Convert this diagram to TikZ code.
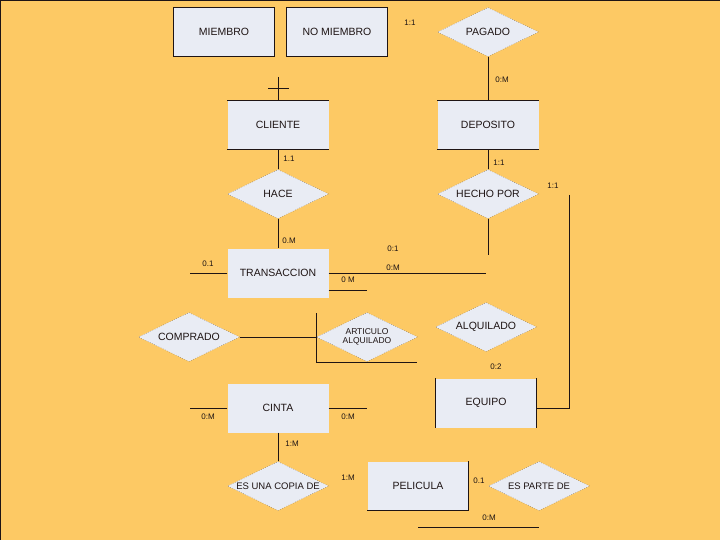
\documentclass[tikz,border=0pt]{standalone}
\usepackage{fontspec}
\setmainfont{Liberation Sans}
\usepackage{xcolor}
\usetikzlibrary{calc,positioning,shapes.geometric}
\definecolor{fondo}{HTML}{FDC964}
\definecolor{relleno}{HTML}{E9ECF4}
\definecolor{tinta}{HTML}{1E1414}
\tikzset{box/.style={fill=relleno,minimum width=101pt,minimum height=49pt,inner sep=0pt,
    font=\fontsize{10.5}{12}\selectfont,text=tinta},
  framed/.style={box,draw=tinta,line width=0.9pt},
  rel/.style={diamond,draw=tinta!80,dotted,fill=relleno,aspect=2.06,minimum width=101pt,
    minimum height=49pt,inner sep=0pt,font=\fontsize{10.5}{12}\selectfont,text=tinta},
  card/.style={font=\fontsize{8}{9}\selectfont,text=tinta,inner sep=0pt},
  ln/.style={draw=tinta,line width=1pt}}

\begin{document}
\begin{tikzpicture}[x=1pt,y=-1pt]
\useasboundingbox (0,0) rectangle (720,540);
\fill[fondo] (0,0) rectangle (720,540);
\draw[tinta,line width=1.2pt] (0,540) -- (0,0) -- (720,0);
% entidades
\node[framed] (miembro) at (224,32) {MIEMBRO};
\node[framed] (nomiembro) at (337,32) {NO MIEMBRO};
\node[box] (cliente) at (278,125) {CLIENTE};
\node[box] (deposito) at (488,125) {DEPOSITO};
\node[box] (transaccion) at (278,273) {TRANSACCION};
\node[box] (cinta) at (278,408) {CINTA};
\node[box] (equipo) at (486,403) {EQUIPO};
\node[box] (pelicula) at (418,486) {PELICULA};
\draw[ln] (cliente.north west) -- (cliente.north east) (cliente.south west) -- (cliente.south east);
\draw[ln] (deposito.north west) -- (deposito.north east) (deposito.south west) -- (deposito.south east);
\draw[ln] (equipo.north west) -- (equipo.south west) (equipo.north east) -- (equipo.south east);
\draw[ln] (pelicula.north east) -- (pelicula.south east) -- (pelicula.south west);
% relaciones
\node[rel] (pagado) at (488,32) {PAGADO};
\node[rel] (hace) at (278,194) {HACE};
\node[rel] (hecho) at (488,194) {HECHO POR};
\node[rel] (comprado) at (189,337) {COMPRADO};
\node[rel,font=\fontsize{8.5}{9.5}\selectfont,align=center] (articulo) at (367,337) {ARTICULO\\ALQUILADO};
\node[rel] (alquilado) at (486,327) {ALQUILADO};
\node[rel,font=\fontsize{9.5}{11}\selectfont] (copia) at (278,486) {ES UNA COPIA DE};
\node[rel,font=\fontsize{9.5}{11}\selectfont] (parte) at (539,486) {ES PARTE DE};
% extremos libres
\coordinate (cruz) at (278,77);
\coordinate (cruzl) at (268,89);
\coordinate (cruzr) at (289,89);
\coordinate (hechofin) at (488,255);
\coordinate (eqtop) at (569,195);
\coordinate (eqcorner) at (569,408);
\coordinate (trleft) at (190,273);
\coordinate (trright) at (486,273);
\coordinate (trlow) at (367,290);
\coordinate (comprfin) at (316,337);
\coordinate (ltop) at (316,313);
\coordinate (lcorner) at (316,362);
\coordinate (lend) at (417,362);
\coordinate (cileft) at (190,408);
\coordinate (ciright) at (367,408);
\coordinate (pl1) at (418,527);
\coordinate (pl2) at (539,527);
% conectores
\draw[ln] (cruz) -- (cliente.north);
\draw[ln] (cruzl) -- (cruzr);
\draw[ln] (pagado) -- (deposito);
\draw[ln] (cliente) -- (hace);
\draw[ln] (deposito) -- (hecho);
\draw[ln] (hace) -- (transaccion);
\draw[ln] (hecho) -- (hechofin);
\draw[ln] (eqtop) -- (eqcorner) -- (eqcorner -| equipo.east);
\draw[ln] (transaccion.west) -- (trleft);
\draw[ln] (transaccion.east) -- (trright);
\draw[ln] (trlow -| transaccion.east) -- (trlow);
\draw[ln] (comprado.east) -- (comprfin);
\draw[ln] (ltop) -- (lcorner) -- (lend);
\draw[ln] (cinta.west) -- (cileft);
\draw[ln] (cinta.east) -- (ciright);
\draw[ln] (cinta) -- (copia);
\draw[ln] (pl1) -- (pl2);
% cardinalidades
\node[card] (c1) at (410,23) {1:1};
\node[card] (c2) at (502,80) {0:M};
\node[card] (c3) at (289,159) {1.1};
\node[card] (c4) at (499,163) {1:1};
\node[card] (c5) at (553,186) {1:1};
\node[card] (c6) at (289,241) {0.M};
\node[card] (c7) at (393,249) {0:1};
\node[card] (c8) at (208,264) {0.1};
\node[card] (c9) at (393,268) {0:M};
\node[card] (c10) at (348,280) {0 M};
\node[card] (c11) at (496,367) {0:2};
\node[card] (c12) at (208,417) {0:M};
\node[card] (c13) at (348,417) {0:M};
\node[card] (c14) at (292,444) {1:M};
\node[card] (c15) at (348,478) {1:M};
\node[card] (c16) at (479,481) {0.1};
\node[card] (c17) at (489,518) {0:M};
\end{tikzpicture}
\end{document}
